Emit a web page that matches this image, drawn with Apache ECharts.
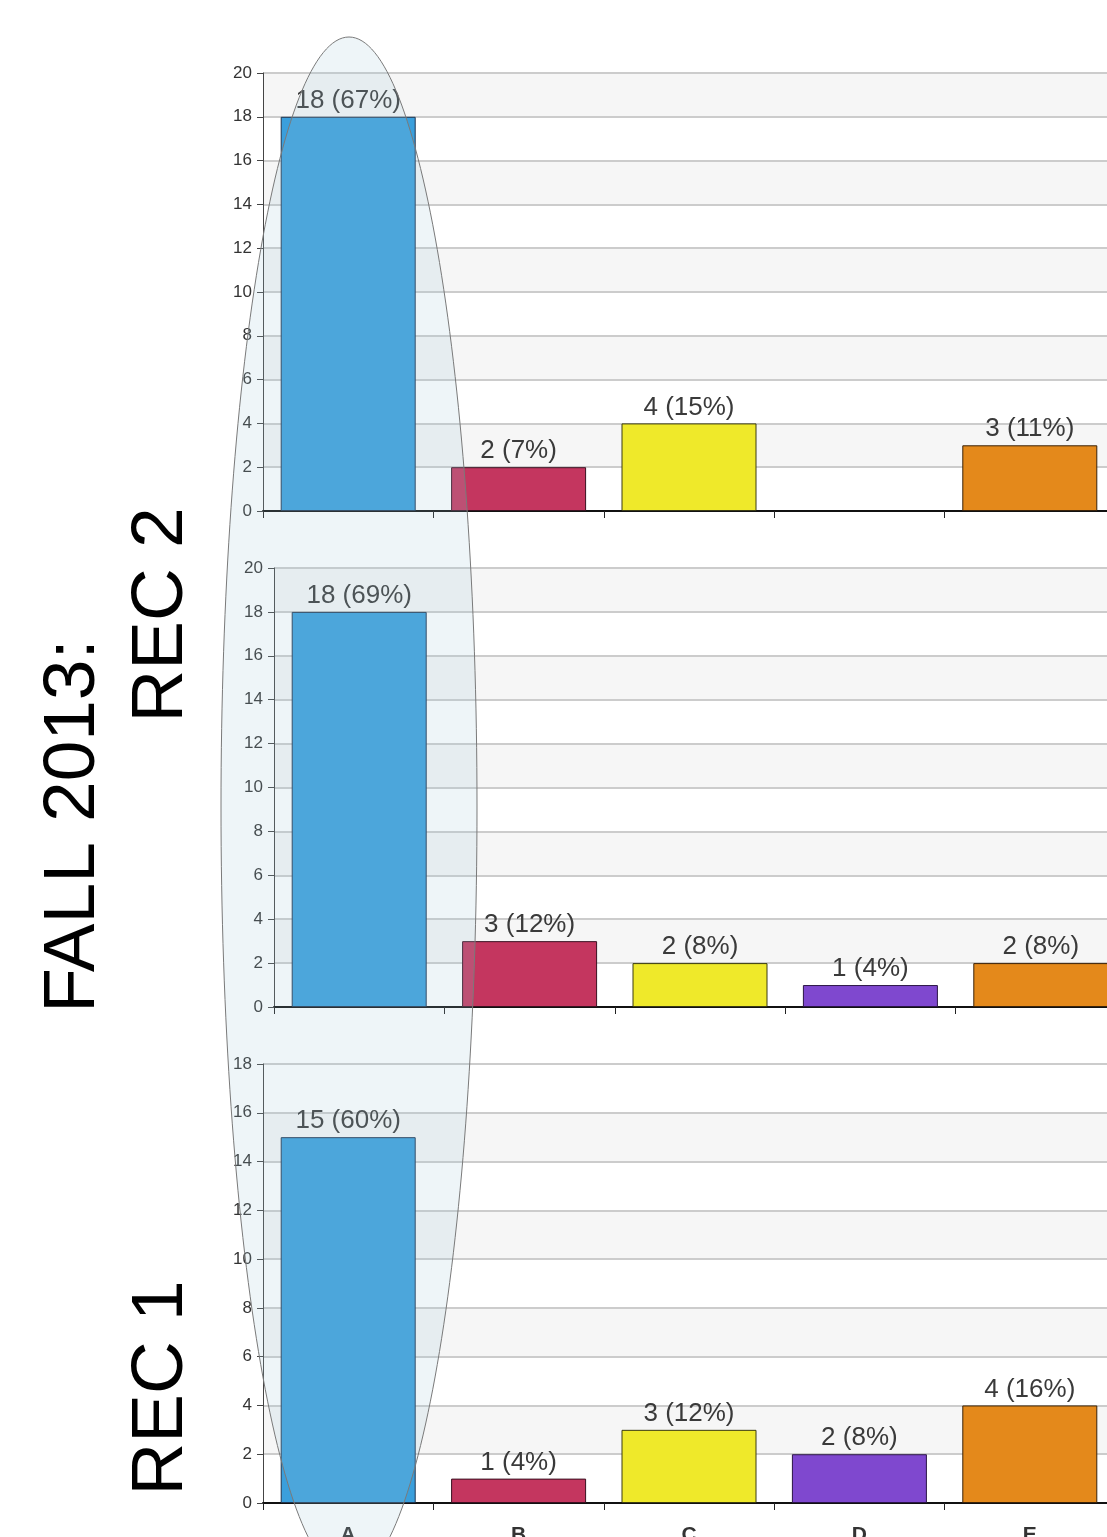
<!DOCTYPE html>
<html>
<head>
<meta charset="utf-8">
<script src="https://cdn.jsdelivr.net/npm/echarts@6/dist/echarts.min.js"></script>
<style>
html,body{margin:0;padding:0;background:#fff;}
#chart{width:1107px;height:1537px;}
</style>
</head>
<body>
<div id="chart"></div>
<script>
// ---- data ----
const categories = ['A', 'B', 'C', 'D', 'E'];
// top panel (REC 2, first chart)
const panel1Counts = [18, 2, 4, 0, 3];
const panel1Pct = [67, 7, 15, 0, 11];
// middle panel (REC 2, second chart)
const panel2Counts = [18, 3, 2, 1, 2];
const panel2Pct = [69, 12, 8, 4, 8];
// bottom panel (REC 1)
const panel3Counts = [15, 1, 3, 2, 4];
const panel3Pct = [60, 4, 12, 8, 16];
const yMax = [20, 20, 18];
const yInterval = 2;
const titleText = 'FALL 2013:';
const rec2Text = 'REC 2';
const rec1Text = 'REC 1';

// ---- styles ----
const barColors = ['#3a9fdc', '#c4365f', '#efe92a', '#7f48cf', '#e4891b'];
const barBorders = ['#1f3550', '#3a1020', '#3a3a10', '#2a1545', '#3a2208'];
const FONT = "'Liberation Sans', Arial, sans-serif";

const grids = [
  { left: 263, top: 73, right: -8, height: 438, outerBoundsMode: 'none', containLabel: false },
  { left: 274, top: 568, right: -19, height: 439, outerBoundsMode: 'none', containLabel: false },
  { left: 263, top: 1064, right: -8, height: 439, outerBoundsMode: 'none', containLabel: false }
];

const counts = [panel1Counts, panel2Counts, panel3Counts];
const pcts = [panel1Pct, panel2Pct, panel3Pct];

const xAxes = grids.map((g, i) => ({
  type: 'category',
  gridIndex: i,
  data: categories,
  axisLine: { lineStyle: { color: '#111', width: 2 } },
  axisTick: { show: true, length: 7, lineStyle: { color: '#222', width: 1 } },
  axisLabel: i === 2
    ? { show: true, margin: 22, fontSize: 21, fontWeight: 'bold', color: '#333', fontFamily: FONT }
    : { show: false },
  splitLine: { show: false }
}));

const yAxes = grids.map((g, i) => ({
  type: 'value',
  gridIndex: i,
  min: 0,
  max: yMax[i],
  interval: yInterval,
  axisLine: { show: true, lineStyle: { color: '#444', width: 1 } },
  axisTick: { show: true, length: 6, lineStyle: { color: '#444' } },
  axisLabel: { fontSize: 17, color: '#333', margin: 11, fontFamily: FONT },
  splitLine: { show: true, lineStyle: { color: '#cccccc', width: 2 } },
  splitArea: { show: true, areaStyle: { color: ['#ffffff', '#f6f6f6'] } }
}));

const series = counts.map((c, i) => ({
  type: 'bar',
  xAxisIndex: i,
  yAxisIndex: i,
  barWidth: 135,
  data: c.map((v, j) => ({
    value: v,
    itemStyle: {
      color: barColors[j],
      borderColor: barBorders[j],
      borderWidth: v > 0 ? 1 : 0
    }
  })),
  label: {
    show: true,
    position: 'top',
    distance: 3,
    fontSize: 26,
    color: '#3a3a3a',
    fontFamily: FONT,
    formatter: p => p.value > 0 ? p.value + ' (' + pcts[i][p.dataIndex] + '%)' : ''
  }
}));

const chart = echarts.init(document.getElementById('chart'), null, { renderer: 'canvas' });
chart.setOption({
  animation: false,
  backgroundColor: '#ffffff',
  grid: grids,
  xAxis: xAxes,
  yAxis: yAxes,
  series: series,
  graphic: [
    {
      type: 'text', x: 74, y: 826, rotation: Math.PI / 2, z: 50,
      style: { text: titleText, fill: '#000', fontSize: 73, fontFamily: FONT, align: 'center', verticalAlign: 'middle' }
    },
    {
      type: 'text', x: 162, y: 615, rotation: Math.PI / 2, z: 50,
      style: { text: rec2Text, fill: '#000', fontSize: 73, fontFamily: FONT, align: 'center', verticalAlign: 'middle' }
    },
    {
      type: 'text', x: 162, y: 1388, rotation: Math.PI / 2, z: 50,
      style: { text: rec1Text, fill: '#000', fontSize: 73, fontFamily: FONT, align: 'center', verticalAlign: 'middle' }
    },
    {
      type: 'ellipse', z: 100,
      shape: { cx: 349, cy: 807, rx: 128, ry: 770 },
      style: { fill: 'rgba(160,200,215,0.18)', stroke: '#7a7a7a', lineWidth: 1 }
    }
  ]
});
</script>
</body>
</html>
